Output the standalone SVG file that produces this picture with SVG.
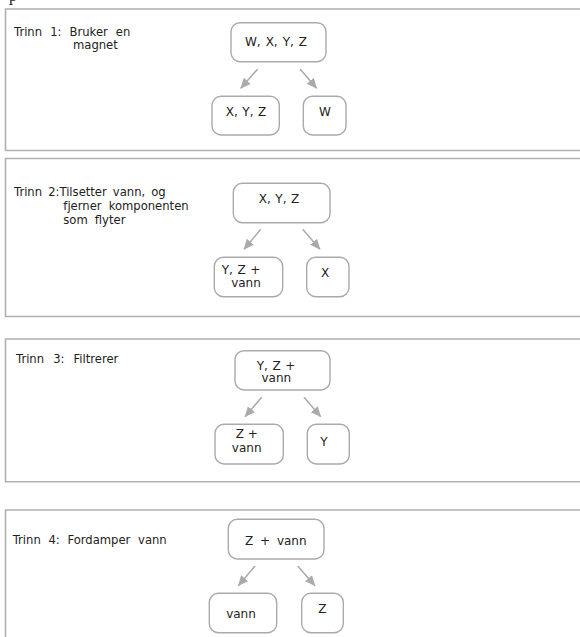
<svg xmlns="http://www.w3.org/2000/svg" width="580" height="637" viewBox="0 0 580 637">
<style>
.panel{fill:none;stroke:#b0b0b0;stroke-width:1.6}
.node rect{fill:#fff;stroke:#aaaaaa;stroke-width:1.4}
text{font-family:"DejaVu Sans","Verdana",sans-serif;font-size:12px;fill:#222}
.lb{font-size:11.6px}
.nt{text-anchor:middle}
.conn line{stroke:#aaaaaa;stroke-width:1.5}
</style>
<defs>
<marker id="ah" markerUnits="userSpaceOnUse" markerWidth="11" markerHeight="11" viewBox="0 0 10 10" refX="9" refY="5" orient="auto">
<path d="M0,0.8 L9.5,5 L0,9.2 Z" fill="#aaaaaa"/>
</marker>
</defs>
<rect width="580" height="637" fill="#fff"/>
<text x="9" y="1" style="font-family:'Liberation Serif',serif;font-size:16px">p</text>

<g id="panels">
<path class="panel" d="M585,9 H5.5 V150.5 H585"/>
<path class="panel" d="M585,158.5 H5.5 V316.5 H585"/>
<path class="panel" d="M585,339 H5.5 V481.7 H585"/>
<path class="panel" d="M585,510 H5.5 V645"/>
</g>

<g id="labels">
<text class="lb" x="14" y="35.5" word-spacing="4.4">Trinn 1: Bruker en</text>
<text class="lb" x="73" y="48.5">magnet</text>
<text class="lb" x="14" y="195.5" word-spacing="2.4">Trinn 2:Tilsetter vann, og</text>
<text class="lb" x="63.3" y="209.5" word-spacing="3.4">fjerner komponenten</text>
<text class="lb" x="63.3" y="223.5" word-spacing="3.4">som flyter</text>
<text class="lb" x="16" y="363.3" word-spacing="5.4">Trinn 3: Filtrerer</text>
<text class="lb" x="12.7" y="544" word-spacing="4">Trinn 4: Fordamper vann</text>
</g>

<g id="n1a" class="node"><rect x="231" y="22.7" width="95" height="39" rx="9"/><text class="nt" x="276" y="45.7" word-spacing="1.2">W, X, Y, Z</text></g>
<g id="n1b" class="node"><rect x="212" y="96.3" width="67.3" height="38.7" rx="9"/><text class="nt" x="246" y="115.7" word-spacing="0.7">X, Y, Z</text></g>
<g id="n1c" class="node"><rect x="303.3" y="96.3" width="42.7" height="38.7" rx="9"/><text class="nt" x="325" y="116">W</text></g>

<g id="n2a" class="node"><rect x="233.3" y="183.3" width="96.7" height="39.4" rx="9"/><text class="nt" x="279" y="203.3" word-spacing="0.7">X, Y, Z</text></g>
<g id="n2b" class="node"><rect x="214.3" y="257.3" width="68.4" height="39.4" rx="9"/><text class="nt" x="241" y="274" word-spacing="0.7">Y, Z +</text><text class="nt" x="246" y="287">vann</text></g>
<g id="n2c" class="node"><rect x="306.7" y="257.3" width="42.3" height="39.4" rx="9"/><text class="nt" x="325" y="277">X</text></g>

<g id="n3a" class="node"><rect x="235" y="350.7" width="95" height="39.3" rx="9"/><text class="nt" x="276" y="369.5" word-spacing="0.7">Y, Z +</text><text class="nt" x="276.3" y="382">vann</text></g>
<g id="n3b" class="node"><rect x="215" y="424.3" width="68.3" height="39.7" rx="9"/><text class="nt" x="246.7" y="438.3">Z +</text><text class="nt" x="246.7" y="451.7">vann</text></g>
<g id="n3c" class="node"><rect x="307.3" y="424.3" width="42" height="39.7" rx="9"/><text class="nt" x="324" y="446">Y</text></g>

<g id="n4a" class="node"><rect x="228.3" y="519.3" width="95.7" height="39.7" rx="9"/><text class="nt" x="275.8" y="545" word-spacing="3">Z + vann</text></g>
<g id="n4b" class="node"><rect x="209.3" y="593.3" width="67.4" height="39.4" rx="9"/><text class="nt" x="241" y="618.3">vann</text></g>
<g id="n4c" class="node"><rect x="301.7" y="593.3" width="41.6" height="39.4" rx="9"/><text class="nt" x="322.3" y="612.7">Z</text></g>

<g id="connectors" class="conn">
<line x1="257.7" y1="69" x2="240.7" y2="88.3" marker-end="url(#ah)"/>
<line x1="300" y1="69" x2="316.7" y2="88.3" marker-end="url(#ah)"/>
<line x1="260.7" y1="229.3" x2="244" y2="249.3" marker-end="url(#ah)"/>
<line x1="302.7" y1="229.3" x2="320" y2="249.3" marker-end="url(#ah)"/>
<line x1="261.7" y1="397.3" x2="245" y2="416.7" marker-end="url(#ah)"/>
<line x1="304" y1="397.3" x2="320.7" y2="416.7" marker-end="url(#ah)"/>
<line x1="255" y1="566" x2="238.3" y2="585.7" marker-end="url(#ah)"/>
<line x1="297.7" y1="566" x2="315" y2="585.7" marker-end="url(#ah)"/>
</g>
</svg>
